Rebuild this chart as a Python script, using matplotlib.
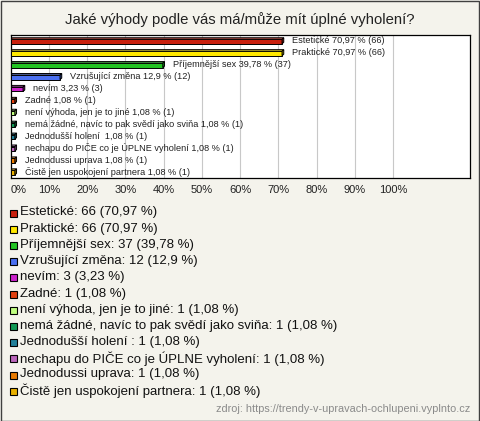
import matplotlib.pyplot as plt
from matplotlib.patches import Polygon, Rectangle

plt.rcParams['font.family'] = ['Liberation Sans', 'DejaVu Sans']

title = "Jaké výhody podle vás má/může mít úplné vyholení?"
labels = ["Estetické", "Praktické", "Příjemnější sex", "Vzrušující změna", "nevím",
          "Zadné", "není výhoda, jen je to jiné", "nemá žádné, navíc to pak svědí jako sviňa",
          "Jednodušší holení ", "nechapu do PIČE co je ÚPLNE vyholení", "Jednodussi uprava",
          "Čistě jen uspokojení partnera"]
counts = [66, 66, 37, 12, 3, 1, 1, 1, 1, 1, 1, 1]
percents = [70.97, 70.97, 39.78, 12.9, 3.23, 1.08, 1.08, 1.08, 1.08, 1.08, 1.08, 1.08]
colors = ["#c8200e", "#ffe800", "#22c422", "#4a6ff0", "#cc22cc", "#e04010",
          "#c0ff80", "#119955", "#228099", "#bb66bb", "#e87a00", "#e8b000"]
ticks = list(range(0, 101, 10))
source = "zdroj: https://trendy-v-upravach-ochlupeni.vyplnto.cz"

W, H = 480, 421
bg = "#f4f3ec"


def fmt(p):
    return f"{p:g}".replace(".", ",")


def shade(c, f):
    r, g, b = [int(c[i:i + 2], 16) / 255 for i in (1, 3, 5)]
    if f < 1:
        return (r * f, g * f, b * f)
    return (r + (1 - r) * (f - 1), g + (1 - g) * (f - 1), b + (1 - b) * (f - 1))


fig = plt.figure(figsize=(W / 100, H / 100), dpi=100, facecolor=bg)
fig.patches.append(Rectangle((0.5 / W, 0.5 / H), 1 - 1.5 / W, 1 - 1.5 / H, transform=fig.transFigure,
                             fill=False, edgecolor="#404040", linewidth=1))

fig.text(0.5, 1 - 20 / H, title, ha="center", va="center", fontsize=10.7, color="#222222")

ax = fig.add_axes([10.7 / W, 1 - 178 / H, (469.5 - 10.7) / W, (178 - 35) / H])
ax.set_facecolor("white")
ax.set_xlim(0, 120)
ax.set_ylim(len(labels) - 0.5, -0.5)
ax.set_xticks(ticks)
ax.set_xticklabels([f"{t}%" for t in ticks], fontsize=8, color="#222222")
ax.get_xticklabels()[0].set_horizontalalignment("left")
ax.tick_params(axis="x", length=0, pad=5)
ax.set_yticks([])
ax.grid(axis="x", color="#c8c8c8", linewidth=0.8)
ax.set_axisbelow(True)
for s in ax.spines.values():
    s.set_color("black")
    s.set_linewidth(0.9)

dx, dy = 0.45, 0.13
for i, (lab, n, p, c) in enumerate(zip(labels, counts, percents, colors)):
    top, bot = i - 0.14, i + 0.24
    ax.add_patch(Polygon([(0, top), (p, top), (p, bot), (0, bot)], closed=True,
                         facecolor=c, edgecolor="black", linewidth=0.7, zorder=3))
    ax.add_patch(Polygon([(0, top), (p, top), (p + dx, top - dy), (dx, top - dy)], closed=True,
                         facecolor=shade(c, 1.3), edgecolor="black", linewidth=0.7, zorder=3))
    ax.add_patch(Polygon([(p, top), (p + dx, top - dy), (p + dx, bot - dy), (p, bot)], closed=True,
                         facecolor=shade(c, 0.6), edgecolor="black", linewidth=0.7, zorder=3))
    ax.annotate(f"{lab} {fmt(p)} % ({n})", (p + dx, i), xytext=(6, 0), textcoords="offset points",
                va="center", ha="left", fontsize=6.6, color="#222222")

# legend
for i, (lab, n, p, c) in enumerate(zip(labels, counts, percents, colors)):
    y = 213 + i * 16.2
    fig.patches.append(Rectangle((9.5 / W, 1 - (y + 3.5) / H), 7 / W, 7 / H, transform=fig.transFigure,
                                 facecolor=c, edgecolor="black", linewidth=0.8))
    fig.text(20 / W, 1 - (y - 0.5) / H, f"{lab}: {n} ({fmt(p)} %)", ha="left", va="center",
             fontsize=9.5, color="#111111")

fig.text(470 / W, 1 - 409 / H, source, ha="right", va="center", fontsize=7.8, color="#8a8a8a")

fig.savefig("out.png", dpi=100, facecolor=bg)
